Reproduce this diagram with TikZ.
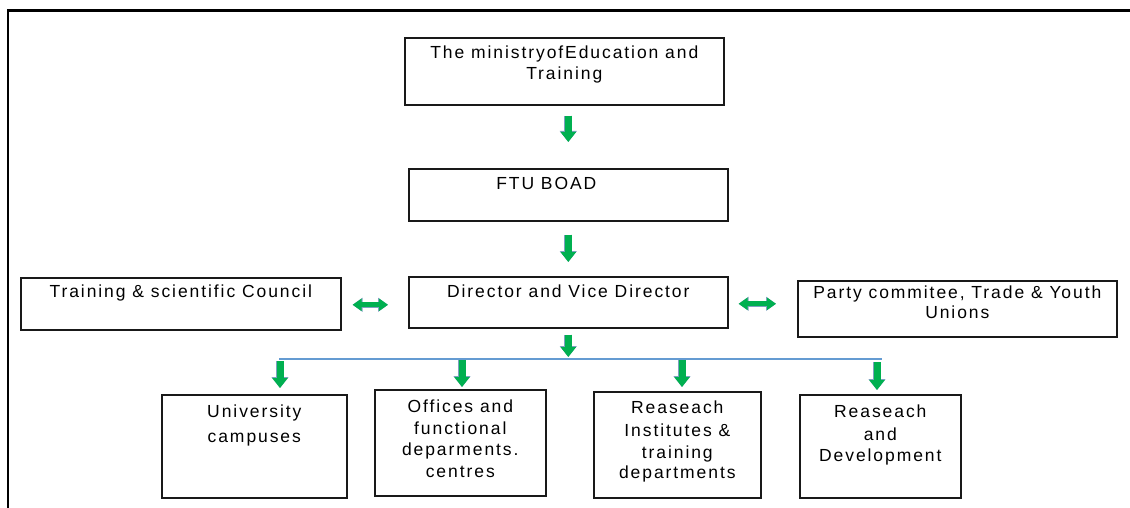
\documentclass[tikz,border=0pt]{standalone}
\usepackage{fontspec}
\setmainfont{Liberation Sans}[LetterSpace=11]
\usetikzlibrary{arrows.meta,calc}
\definecolor{arrowgreen}{RGB}{0,176,80}
\definecolor{arrowedge}{RGB}{70,120,165}
\definecolor{busblue}{RGB}{100,155,210}
% top-aligned, centred text block of a given width/height; #3 = first baseline drop
\newcommand\boxtext[4]{\parbox[c][#2pt][t]{#1pt}{\centering\rule{0pt}{#3pt}#4\par}}
\begin{document}
\begin{tikzpicture}[x=1pt,y=-1pt,
  box/.style={draw=black!90, line width=1.6pt, inner sep=0pt, anchor=north west,
    font=\fontsize{17.5}{22.5}\selectfont},
  downarrow/.style={draw=arrowgreen, line width=7pt,
    -{Triangle[width=15pt,length=10pt]},
    preaction={draw=arrowedge!70, line width=8pt, -{Triangle[width=16.5pt,length=11pt]}}},
  twoway/.style={draw=arrowgreen, line width=5pt,
    {Triangle[width=12pt,length=9pt]}-{Triangle[width=12pt,length=9pt]},
    preaction={draw=arrowedge!70, line width=6pt,
      {Triangle[width=13.5pt,length=10pt]}-{Triangle[width=13.5pt,length=10pt]}}},
  bus/.style={draw=busblue, line width=2.5pt}]
\useasboundingbox (0,0) rectangle (1130,508);
% page frame
\draw[line width=2.5pt, black] (8,508) -- (8,10.5) -- (1130,10.5);

% boxes
\node[box] (min) at (404,37) {\boxtext{319}{67}{21}{The ministryofEducation and\\[-1.5pt]Training}};
\node[box] (ftu) at (408,168) {\boxtext{319}{52}{21}{FTU BOAD\hspace*{44pt}}};
\node[box] (dir) at (408,276) {\boxtext{319}{51}{21}{Director and Vice Director}};
\node[box] (trn) at (20,277) {\boxtext{320}{52}{20}{Training \& scientific Council}};
\node[box] (pty) at (797,280) {\boxtext{319}{56}{18}{Party commitee, Trade \& Youth\\[-2.5pt]Unions}};
\node[box] (uni) at (161,394) {\boxtext{185}{103}{23}{University\\[2pt]campuses}};
\node[box] (off) at (374,389) {\boxtext{171}{106}{23}{Offices and\\[-1pt]functional\\[-1pt]deparments.\\[-1pt]centres}};
\node[box] (rsi) at (593,391) {\boxtext{167}{106}{22}{Reaseach\\Institutes \&\\training\\[-3pt]departments}};
\node[box] (rnd) at (799,394) {\boxtext{161}{103}{23}{Reaseach\\and\\[-1pt]Development}};

% vertical chain
\draw[downarrow] ($(ftu.north |- min.south)+(0,10)$) -- ($(ftu.north)+(0,-26)$);
\draw[downarrow] ($(ftu.south)+(0,13)$) -- ($(dir.north)+(0,-14)$);

% distribution bar
\coordinate (busL) at (279,359);
\coordinate (busR) at (882,359);
\draw[downarrow] ($(dir.south)+(0,6)$) -- ($(dir.south |- busL)+(0,-2)$);
\draw[bus] (busL) -- (busR);

\draw[downarrow] ($(280,361)$) -- ($(280,0 |- uni.north)+(0,-6)$);
\draw[downarrow] ($(462,360)$) -- ($(462,0 |- off.north)+(0,-2)$);
\draw[downarrow] ($(682,360)$) -- ($(682,0 |- rsi.north)+(0,-4)$);
\draw[downarrow] ($(877,362)$) -- ($(877,0 |- rnd.north)+(0,-4)$);

% side links
\draw[twoway] ($(trn.east)+(11,1)$) -- ($(dir.west)+(-20,2.5)$);
\draw[twoway] ($(dir.east)+(10,1.5)$) -- ($(pty.west)+(-21,-5)$);
\end{tikzpicture}
\end{document}
